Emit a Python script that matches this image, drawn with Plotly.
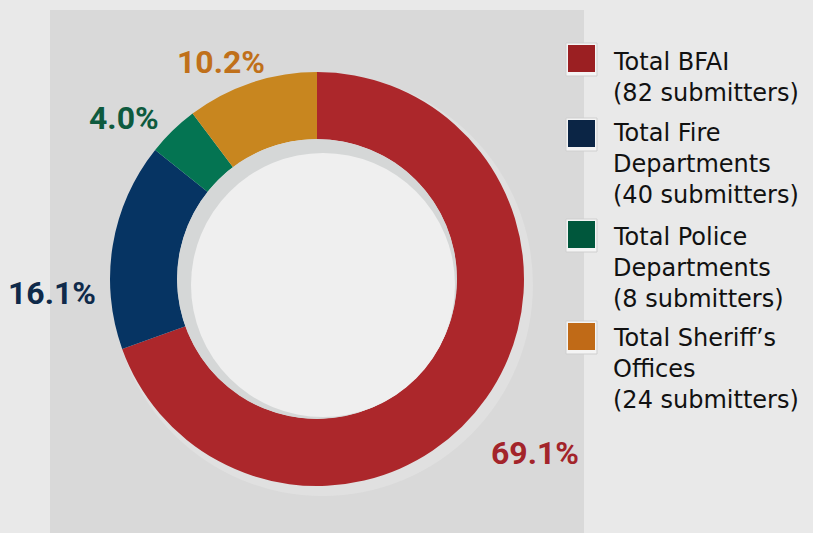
import plotly.graph_objects as go

categories = ["Total BFAI", "Total Fire Departments", "Total Police Departments", "Total Sheriff's Offices"]
legend_labels = ["Total BFAI<br>(82 submitters)",
                 "Total Fire<br>Departments<br>(40 submitters)",
                 "Total Police<br>Departments<br>(8 submitters)",
                 "Total Sheriff’s<br>Offices<br>(24 submitters)"]
percents = [69.1, 16.1, 4.0, 10.2]
slice_colors = ["#ac272b", "#063463", "#047452", "#c8861f"]
swatch_colors = ["#9b1f22", "#0b2545", "#00573c", "#c06a17"]
label_colors = ["#a3242a", "#0f2a4a", "#0e5a3e", "#c0701a"]

W, H = 813, 533
def px(x): return x / W
def py(y): return 1 - y / H

cx, cy, R = 317, 279, 207

fig = go.Figure()
fig.add_trace(go.Pie(
    labels=categories, values=percents, hole=0.675, sort=False,
    direction="clockwise", rotation=0,
    marker=dict(colors=slice_colors, line=dict(width=0)),
    textinfo="none", hoverinfo="label+percent", showlegend=False,
    domain=dict(x=[px(cx - R), px(cx + R)], y=[py(cy + R), py(cy - R)]),
))

shapes = []
# background panel
shapes.append(dict(type="rect", xref="paper", yref="paper", x0=px(50), x1=px(584), y0=0, y1=py(10),
                   fillcolor="#d9d9d9", line=dict(width=0), layer="below"))
# outer soft shadow
shapes.append(dict(type="circle", xref="paper", yref="paper",
                   x0=px(cx - R + 2), x1=px(cx + R + 9), y0=py(cy + R + 10), y1=py(cy - R + 2),
                   fillcolor="#e0e0e0", line=dict(width=0), layer="below"))
# inner hole with shadow ring
rh = 140
shapes.append(dict(type="circle", xref="paper", yref="paper",
                   x0=px(cx - rh), x1=px(cx + rh), y0=py(cy + rh), y1=py(cy - rh),
                   fillcolor="#d5d7d7", line=dict(width=0), layer="above"))
rw = 132
shapes.append(dict(type="circle", xref="paper", yref="paper",
                   x0=px(cx - rw + 6), x1=px(cx + rw + 6), y0=py(cy + rw + 6), y1=py(cy - rw + 6),
                   fillcolor="#efefef", line=dict(width=0), layer="above"))

annotations = []
# slice percentage labels
label_pos = [(535, 453), (52, 293), (124, 118), (221, 62)]
for p, c, (lx, ly) in zip(percents, label_colors, label_pos):
    annotations.append(dict(x=px(lx), y=py(ly), xref="paper", yref="paper", showarrow=False,
                            text=f"<b>{p:.1f}%</b>", xanchor="center", yanchor="middle",
                            font=dict(family="Roboto", size=32, color=c)))

# custom legend
item_tops = [45, 120, 221, 323]
first_line = [62, 133, 237, 338]
line_step = 31
for name, col, top, l0 in zip(legend_labels, swatch_colors, item_tops, first_line):
    shapes.append(dict(type="rect", xref="paper", yref="paper",
                       x0=px(566), x1=px(597), y0=py(top + 31), y1=py(top - 2),
                       fillcolor="#f4f4f4", line=dict(color="#cfcfcf", width=1), layer="above"))
    shapes.append(dict(type="rect", xref="paper", yref="paper",
                       x0=px(568), x1=px(595), y0=py(top + 27), y1=py(top),
                       fillcolor=col, line=dict(width=0), layer="above"))
    for i, line in enumerate(name.split("<br>")):
        annotations.append(dict(x=px(611), y=py(l0 + i * line_step), xref="paper", yref="paper",
                                showarrow=False, text=line, xanchor="left", yanchor="middle",
                                align="left",
                                font=dict(family="DejaVu Sans", size=24, color="#111111")))

fig.update_layout(
    width=W, height=H, margin=dict(l=0, r=0, t=0, b=0),
    paper_bgcolor="#e9e9e9", plot_bgcolor="#e9e9e9",
    shapes=shapes, annotations=annotations, showlegend=False,
)
fig.write_html("out.html", config={"displayModeBar": False},
               post_script="document.body.style.margin='0';document.body.style.background='#e9e9e9';")
